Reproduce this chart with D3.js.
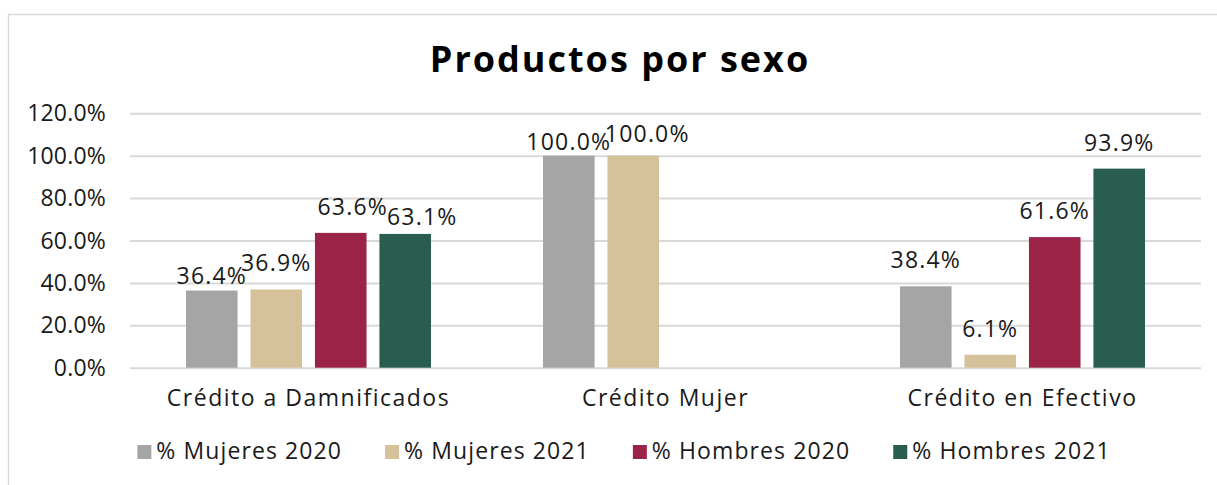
<!DOCTYPE html>
<html>
<head>
<meta charset="utf-8">
<script src="https://cdn.jsdelivr.net/npm/d3@7"></script>
<style>
  body { margin: 0; background: #fff; }
  svg { display: block; font-family: 'Open Sans', sans-serif; }
  .grid line { stroke: #d9d9d9; stroke-width: 2; }
  .grid .domain { display: none; }
  text { fill: #1a1a1a; }
</style>
</head>
<body>
<svg></svg>
<script>
const dims = { width: 1217, height: 485 }

// data
const categories = ['Crédito a Damnificados', 'Crédito Mujer', 'Crédito en Efectivo']
const series = ['% Mujeres 2020', '% Mujeres 2021', '% Hombres 2020', '% Hombres 2021']
const mujeres2020 = [0.364, 1.0, 0.384]
const mujeres2021 = [0.369, 1.0, 0.061]
const hombres2020 = [0.636, null, 0.616]
const hombres2021 = [0.631, null, 0.939]
const yTicks = [0, 0.2, 0.4, 0.6, 0.8, 1.0, 1.2]

const values = [mujeres2020, mujeres2021, hombres2020, hombres2021]
const colors = ['#a5a5a5', '#d5c29b', '#9c2348', '#285d4f']

// label nudges (px) where the original labels were moved by hand
const nudge = {
  'Crédito a Damnificados|% Mujeres 2020': [0, 11],
  'Crédito a Damnificados|% Hombres 2020': [12, 0],
  'Crédito a Damnificados|% Hombres 2021': [17, 9],
  'Crédito Mujer|% Mujeres 2020': [0, 12],
  'Crédito Mujer|% Mujeres 2021': [14, 4]
}

const svg = d3.select('svg')
  .attr('width', dims.width)
  .attr('height', dims.height)

// outer frame
svg.append('path')
  .attr('d', 'M8.5,490 V14.5 H1230')
  .attr('fill', 'none')
  .attr('stroke', '#d9d9d9')
  .attr('stroke-width', 1.5)

svg.append('text')
  .attr('x', 620)
  .attr('y', 72)
  .attr('text-anchor', 'middle')
  .style('font-size', '36px')
  .style('font-weight', 700)
  .style('letter-spacing', '2px')
  .style('fill', '#000')
  .text('Productos por sexo')

const x0 = d3.scaleBand().domain(categories).range([130, 1201])
const x1 = d3.scaleBand().domain(series).range([56, 301]).paddingInner(0.2)
const y = d3.scaleLinear().domain([0, 1.2]).range([367.7, 113.3])

// gridlines
svg.append('g')
  .attr('class', 'grid')
  .attr('transform', 'translate(130,0)')
  .call(d3.axisLeft(y).tickValues(yTicks).tickSize(-1071).tickFormat(''))

// y labels
svg.append('g').selectAll('text').data(yTicks)
  .enter().append('text')
    .attr('x', 106)
    .attr('y', d => y(d))
    .attr('dy', '0.35em')
    .attr('text-anchor', 'end')
    .style('font-size', '23px')
    .style('letter-spacing', '0.2px')
    .text(d3.format('.1%'))

const rows = []
categories.forEach((c, i) => {
  series.forEach((s, j) => {
    if (values[j][i] != null) rows.push({ cat: c, ser: s, val: values[j][i], color: colors[j] })
  })
})

const barsG = svg.append('g')
barsG.selectAll('rect').data(rows)
  .enter().append('rect')
    .attr('x', d => x0(d.cat) + x1(d.ser))
    .attr('y', d => y(d.val))
    .attr('width', x1.bandwidth())
    .attr('height', d => y(0) - y(d.val))
    .attr('fill', d => d.color)

barsG.selectAll('text').data(rows)
  .enter().append('text')
    .attr('x', d => x0(d.cat) + x1(d.ser) + x1.bandwidth() / 2 + (nudge[d.cat + '|' + d.ser] || [0, 0])[0])
    .attr('y', d => y(d.val) - 18 + (nudge[d.cat + '|' + d.ser] || [0, 0])[1])
    .attr('text-anchor', 'middle')
    .style('font-size', '23px')
    .style('letter-spacing', '1.2px')
    .text(d => d3.format('.1%')(d.val))

// category labels
svg.append('g').selectAll('text').data(categories)
  .enter().append('text')
    .attr('x', d => x0(d) + x0.bandwidth() / 2)
    .attr('y', 406)
    .attr('text-anchor', 'middle')
    .style('font-size', '23px')
    .style('letter-spacing', '1.5px')
    .text(d => d)

// legend
const legend = svg.append('g')
const items = legend.selectAll('g').data(series)
  .enter().append('g')
items.append('rect')
  .attr('width', 14)
  .attr('height', 14)
  .attr('y', 445)
  .attr('fill', (d, i) => colors[i])
items.append('text')
  .attr('x', 19)
  .attr('y', 459)
  .style('font-size', '23px')
  .style('letter-spacing', '1.1px')
  .text(d => d)

let cx = 0
items.each(function () {
  const w = d3.select(this).select('text').node().getComputedTextLength()
  d3.select(this).attr('transform', `translate(${cx},0)`)
  cx += 19 + w + 43
})
const total = cx - 43
legend.attr('transform', `translate(${624 - total / 2},0)`)
</script>
</body>
</html>
